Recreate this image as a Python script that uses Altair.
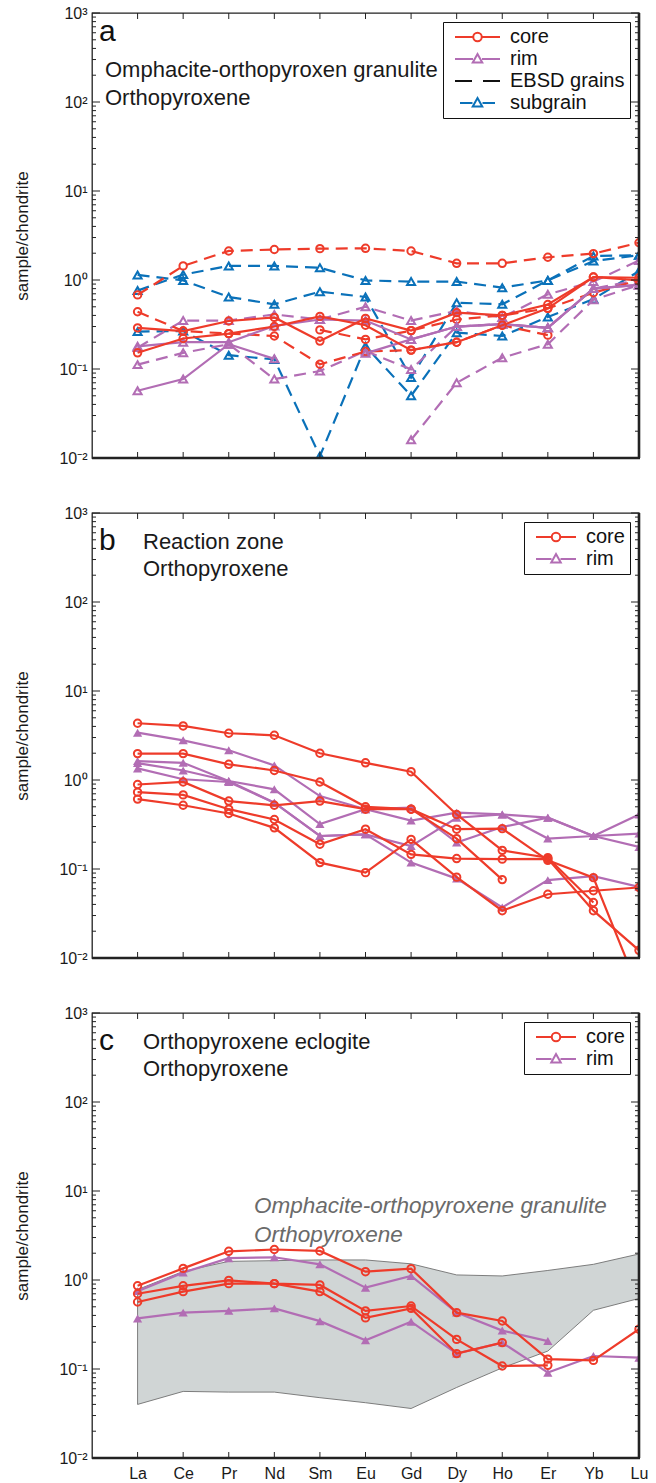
import altair as alt
import pandas as pd

FONT = "Liberation Sans"
RED = "#EE3B2A"
PURPLE = "#B26DB4"
BLUE = "#0A71B9"
BLACK = "#111111"
FRAME = "#222222"
GRAY_FILL = "#D0D5D5"
GRAY_EDGE = "#707070"

elements = ["La", "Ce", "Pr", "Nd", "Sm", "Eu", "Gd", "Dy", "Ho", "Er", "Yb", "Lu"]

# ---------------- panel a : Omphacite-orthopyroxene granulite ----------------
a_core = [
    [0.29, 0.267, 0.346, 0.38, 0.206, 0.37, 0.27, 0.43, 0.40, 0.53, 1.08, 1.06],
    [0.152, 0.22, 0.25, 0.30, 0.39, 0.31, 0.163, 0.20, 0.31, 0.48, 1.08, 0.99],
]
a_rim = [
    [0.057, 0.077, 0.19, 0.13, None, 0.15, 0.215, 0.30, 0.32, 0.29, 0.80, 0.88],
    [0.18, 0.20, 0.20, 0.305, 0.36, 0.35, 0.215, 0.30, 0.32, 0.29, 0.80, 0.88],
]
a_ebsd_core = [
    [0.68, 1.44, 2.12, 2.20, 2.25, 2.27, 2.12, 1.54, 1.54, 1.80, 1.98, 2.62],
    [0.44, 0.267, 0.25, 0.235, 0.113, 0.157, 0.163, 0.20, 0.31, 0.24, None, None],
    [None, None, None, None, 0.275, 0.215, 0.27, 0.36, 0.40, 0.48, 0.72, 0.99],
]
a_ebsd_rim = [
    [0.112, 0.152, 0.19, 0.077, 0.095, 0.159, 0.099, 0.30, 0.32, 0.29, 0.80, 1.00],
    [0.174, 0.35, 0.35, 0.41, 0.36, 0.50, 0.35, 0.45, 0.38, 0.69, 0.96, 1.66],
    [None, None, None, None, None, None, 0.016, 0.07, 0.134, 0.19, 0.60, 0.88],
]
a_subgrain = [
    [0.76, 1.15, 1.44, 1.44, 1.37, 0.99, 0.96, 0.96, 0.82, 0.99, 1.86, 1.90],
    [1.14, 0.99, 0.645, 0.533, 0.74, 0.645, 0.08, 0.556, 0.533, 0.99, 1.63, 1.90],
    [0.263, 0.267, 0.143, 0.128, 0.0105, 0.18, 0.05, 0.256, 0.235, 0.384, 0.61, 1.26],
]

# ---------------- panel b : Reaction zone ----------------
b_core = [
    [4.34, 4.05, 3.35, 3.18, 2.0, 1.56, 1.24, 0.41, 0.162, 0.134, 0.042, None],
    [1.98, 1.98, 1.5, 1.28, 0.95, 0.50, 0.47, 0.28, 0.284, 0.125, 0.08, 0.0043],
    [0.89, 0.95, 0.58, 0.52, 0.58, 0.47, 0.47, 0.219, 0.076, None, None, None],
    [0.73, 0.68, 0.47, 0.36, 0.19, 0.28, 0.146, 0.131, 0.129, 0.13, 0.034, 0.0122],
    [0.61, 0.52, 0.42, 0.29, 0.118, 0.091, 0.215, 0.081, 0.034, 0.052, 0.057, 0.062],
]
b_rim = [
    [3.40, 2.79, 2.16, 1.46, 0.66, 0.47, 0.49, 0.198, 0.296, 0.377, 0.235, 0.177],
    [1.63, 1.56, 0.975, 0.785, 0.32, 0.47, 0.35, 0.43, 0.41, 0.22, 0.235, 0.25],
    [1.55, 1.28, 0.975, 0.556, 0.235, 0.245, 0.181, 0.377, 0.41, 0.377, 0.235, 0.41],
    [1.35, 1.02, 0.95, 0.556, 0.235, 0.245, 0.118, 0.078, 0.037, 0.075, 0.083, 0.063],
]

# ---------------- panel c : Orthopyroxene eclogite ----------------
c_core = [
    [0.86, 1.35, 2.1, 2.2, 2.12, 1.24, 1.34, 0.43, 0.346, 0.129, 0.125, 0.28],
    [0.70, 0.86, 0.99, 0.91, 0.88, 0.45, 0.51, 0.215, 0.108, 0.11, None, None],
    [0.566, 0.74, 0.91, 0.91, 0.74, 0.375, 0.48, 0.149, 0.198, None, None, None],
]
c_rim = [
    [0.75, 1.21, 1.76, 1.80, 1.50, 0.82, 1.11, 0.43, 0.27, 0.206, None, None],
    [0.37, 0.43, 0.45, 0.48, 0.345, 0.21, 0.34, 0.149, 0.198, 0.091, 0.14, 0.134],
]
env_upper = [0.78, 1.25, 1.62, 1.65, 1.68, 1.68, 1.52, 1.14, 1.11, 1.28, 1.50, 1.96]
env_lower = [0.04, 0.056, 0.055, 0.055, 0.0476, 0.0418, 0.036, 0.062, 0.103, 0.159, 0.457, 0.62]

y_tick_values = [0.01, 0.1, 1, 10, 100, 1000]
y_tick_labels = ["10⁻²", "10⁻¹", "10⁰", "10¹", "10²", "10³"]


def to_frame(series_list, tag):
    rows = []
    for si, s in enumerate(series_list):
        seg = 0
        gap = True
        for i, v in enumerate(s):
            if v is None:
                gap = True
                continue
            if gap:
                seg += 1
                gap = False
            rows.append({"sid": f"{tag}{si}_{seg}", "xi": i, "v": v})
    return pd.DataFrame(rows)


W, H = 547, 445
x_scale = alt.Scale(domain=[-1, 11], nice=False, zero=False)
y_scale = alt.Scale(type="log", domain=[0.01, 1000], nice=False)

y_expr = "".join(
    f"datum.value < {v * 3.0} ? '{lab}' : " for v, lab in zip(y_tick_values[:-1], y_tick_labels[:-1])
) + f"'{y_tick_labels[-1]}'"
x_expr = "[" + ",".join(f"'{e}'" for e in elements) + "][round(datum.value)]"

Y_AXIS = alt.Axis(
    values=y_tick_values, labelExpr=y_expr, ticks=False, domain=False, grid=False,
    labelFont=FONT, labelFontSize=16, labelColor="#1a1a1a", labelPadding=5,
    title="sample/chondrite", titleFont=FONT, titleFontSize=17, titleFontWeight="normal",
    titleColor="#1a1a1a", titlePadding=27,
)
X_AXIS_LABELS = alt.Axis(
    values=list(range(12)), labelExpr=x_expr, ticks=False, domain=False, grid=False,
    labelFont=FONT, labelFontSize=16, labelColor="#1a1a1a", labelPadding=7,
    labelFlush=False, title=None,
)

# axis tick decoration values
major_df = pd.DataFrame({"v": y_tick_values})
minor_df = pd.DataFrame({"v": [k * 10.0 ** e for e in range(-2, 3) for k in range(2, 10)]})
xt_df = pd.DataFrame({"xi": list(range(12))})
one_df = pd.DataFrame({"a": [0]})


def make_panel(groups, legend_labels, legend_paths, legend_colors, legend_label_offset,
               texts, show_x=False, envelope=None):
    X = alt.X("xi:Q", scale=x_scale, axis=X_AXIS_LABELS if show_x else None)
    Y = alt.Y("v:Q", scale=y_scale, axis=Y_AXIS)
    layers = []
    if envelope is not None:
        env_df = pd.DataFrame({"xi": list(range(12)), "v": envelope[1], "hi": envelope[0]})
        layers.append(
            alt.Chart(env_df).mark_area(color=GRAY_FILL, stroke=GRAY_EDGE, strokeWidth=0.9, opacity=1)
            .encode(x=X, y=Y, y2="hi:Q")
        )
    # annotations
    for (txt, px, py, fs, style, col) in texts:
        kw = {"fontStyle": style} if style else {}
        layers.append(
            alt.Chart(pd.DataFrame({"t": [txt]})).mark_text(
                align="left", baseline="alphabetic", font=FONT, fontSize=fs, color=col, **kw)
            .encode(text="t:N", x=alt.value(px), y=alt.value(py))
        )
    for (df, color, dash, shape, filled, size, sw) in groups:
        kw = {"strokeDash": dash} if dash else {}
        layers.append(
            alt.Chart(df).mark_line(color=color, strokeWidth=2.2, clip=True, **kw)
            .encode(x=X, y=Y, detail="sid:N", order="xi:Q")
        )
        layers.append(
            alt.Chart(df).mark_point(shape=shape, filled=filled, size=size, strokeWidth=sw,
                                     color=color, opacity=1, clip=True)
            .encode(x=X, y=Y)
        )
    # inward ticks
    for (dfm, ln) in [(major_df, 8), (minor_df, 4)]:
        layers.append(alt.Chart(dfm).mark_rule(color=FRAME, strokeWidth=1)
                      .encode(y=Y, x=alt.value(0), x2=alt.value(ln)))
        layers.append(alt.Chart(dfm).mark_rule(color=FRAME, strokeWidth=1)
                      .encode(y=Y, x=alt.value(W - ln), x2=alt.value(W)))
    layers.append(alt.Chart(xt_df).mark_rule(color=FRAME, strokeWidth=1)
                  .encode(x=X, y=alt.value(0), y2=alt.value(6)))
    layers.append(alt.Chart(xt_df).mark_rule(color=FRAME, strokeWidth=1)
                  .encode(x=X, y=alt.value(H - 6), y2=alt.value(H)))
    # heavier right and bottom frame edges
    layers.append(alt.Chart(one_df).mark_rule(color=FRAME, strokeWidth=2.6)
                  .encode(x=alt.value(W), y=alt.value(0), y2=alt.value(H)))
    layers.append(alt.Chart(one_df).mark_rule(color=FRAME, strokeWidth=2.6)
                  .encode(y=alt.value(H), x=alt.value(0), x2=alt.value(W + 1)))
    # legend
    leg = alt.Legend(
        title=None, orient="top-right", offset=9, padding=5, strokeColor="#111111",
        fillColor="white", labelFont=FONT, labelFontSize=20, labelColor="#111111",
        symbolSize=100, symbolStrokeWidth=2, symbolFillColor="transparent", symbolOpacity=1,
        labelOffset=legend_label_offset, rowPadding=2, cornerRadius=0,
    )
    leg_df = pd.DataFrame({"lab": legend_labels})
    layers.append(
        alt.Chart(leg_df).mark_point(filled=False, opacity=0).encode(
            x=alt.value(0), y=alt.value(0),
            shape=alt.Shape("lab:N", scale=alt.Scale(domain=legend_labels, range=legend_paths), legend=leg),
            stroke=alt.Stroke("lab:N", scale=alt.Scale(domain=legend_labels, range=legend_colors), legend=leg),
        )
    )
    return alt.layer(*layers).properties(width=W, height=H)


DASH = [12, 7]
TRI = "triangle-up"

# legend symbol paths (unit = 5 px)
P_CORE_A = "M-0.6,0L3.05,0M4.75,0L8.4,0M4.75,0A0.85,0.85,0,1,1,3.05,0A0.85,0.85,0,1,1,4.75,0"
P_RIM_A = "M-0.6,0L3.0,0M4.8,0L8.4,0M3.9,-1.0L4.85,0.7L2.95,0.7Z"
P_EBSD_A = "M-0.6,0L2.8,0M5.0,0L8.4,0"
P_SUB_A = "M0.4,0L2.9,0M4.9,0L7.4,0M3.9,-1.0L4.85,0.7L2.95,0.7Z"
P_CORE_B = "M-0.6,0L2.55,0M4.25,0L7.4,0M4.25,0A0.85,0.85,0,1,1,2.55,0A0.85,0.85,0,1,1,4.25,0"
P_RIM_B = "M-0.6,0L2.5,0M4.3,0L7.4,0M3.4,-1.0L4.35,0.7L2.45,0.7Z"

panel_a = make_panel(
    groups=[
        (to_frame(a_subgrain, "s"), BLUE, DASH, TRI, False, 65, 2),
        (to_frame(a_ebsd_rim, "er"), PURPLE, DASH, TRI, False, 65, 2),
        (to_frame(a_ebsd_core, "ec"), RED, DASH, "circle", False, 55, 2),
        (to_frame(a_rim, "r"), PURPLE, None, TRI, False, 65, 2),
        (to_frame(a_core, "c"), RED, None, "circle", False, 55, 2),
    ],
    legend_labels=["core", "rim", "EBSD grains", "subgrain"],
    legend_paths=[P_CORE_A, P_RIM_A, P_EBSD_A, P_SUB_A],
    legend_colors=[RED, PURPLE, BLACK, BLUE],
    legend_label_offset=42,
    texts=[
        ("a", 7, 28, 30, None, "#111111"),
        ("Omphacite-orthopyroxen granulite", 13, 64, 22, None, "#1a1a1a"),
        ("Orthopyroxene", 13, 92, 22, None, "#1a1a1a"),
    ],
)

panel_b = make_panel(
    groups=[
        (to_frame(b_rim, "r"), PURPLE, None, TRI, True, 85, 1),
        (to_frame(b_core, "c"), RED, None, "circle", False, 55, 2),
    ],
    legend_labels=["core", "rim"],
    legend_paths=[P_CORE_B, P_RIM_B],
    legend_colors=[RED, PURPLE],
    legend_label_offset=37,
    texts=[
        ("b", 7, 37, 30, None, "#111111"),
        ("Reaction zone", 51, 36, 22, None, "#1a1a1a"),
        ("Orthopyroxene", 51, 63, 22, None, "#1a1a1a"),
    ],
)

panel_c = make_panel(
    groups=[
        (to_frame(c_rim, "r"), PURPLE, None, TRI, True, 85, 1),
        (to_frame(c_core, "c"), RED, None, "circle", False, 55, 2),
    ],
    legend_labels=["core", "rim"],
    legend_paths=[P_CORE_B, P_RIM_B],
    legend_colors=[RED, PURPLE],
    legend_label_offset=37,
    texts=[
        ("c", 7, 37, 30, None, "#111111"),
        ("Orthopyroxene eclogite", 51, 36, 22, None, "#1a1a1a"),
        ("Orthopyroxene", 51, 63, 22, None, "#1a1a1a"),
        ("Omphacite-orthopyroxene granulite", 162, 200, 22.5, "italic", "#6a6a6a"),
        ("Orthopyroxene", 162, 229, 22.5, "italic", "#6a6a6a"),
    ],
    show_x=True,
    envelope=(env_upper, env_lower),
)

chart = (
    alt.vconcat(panel_a, panel_b, panel_c, spacing=37)
    .resolve_scale(shape="independent", stroke="independent")
    .resolve_legend(shape="independent", stroke="independent")
    .properties(padding={"left": 13, "top": 4, "right": 5, "bottom": 2}, background="white")
    .configure_view(stroke=FRAME, strokeWidth=1.3)
)

chart.save("out.html", embed_options={"renderer": "svg", "actions": False})
